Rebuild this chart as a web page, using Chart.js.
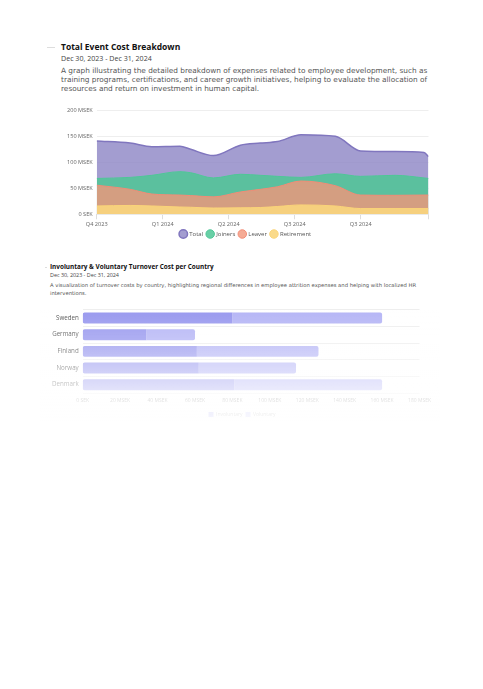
<!DOCTYPE html>
<html>
<head>
<meta charset="utf-8">
<script src="https://cdn.jsdelivr.net/npm/chart.js@4.4.0/dist/chart.umd.min.js"></script>
<style>
  body { margin: 0; background: #fff; font-family: "Open Sans", sans-serif; }
  .page { position: relative; width: 483px; height: 689px; overflow: hidden; }
  .head { position: absolute; }
  .head h2 { margin: 0; font-weight: 700; color: #111; }
  .head .date { color: #444; }
  .head p { margin: 0; color: #555; font-family: "DejaVu Sans", sans-serif; white-space: nowrap; }
  .dash { position: absolute; height: 1px; background: #ddd; }
  .box { position: absolute; }
  .fade { position: absolute; pointer-events: none;
    background: linear-gradient(to bottom, rgba(255,255,255,0) 0%, rgba(255,255,255,0.2) 25%, rgba(255,255,255,0.7) 70%, rgba(255,255,255,0.92) 100%); }
</style>
</head>
<body>
<div class="page">
  <div class="dash" style="left:47px;top:47px;width:8px;"></div>
  <div class="head" style="left:61px;top:42px;width:380px;">
    <h2 style="font-size:8.5px;line-height:10.5px;">Total Event Cost Breakdown</h2>
    <div class="date" style="font-size:7.1px;line-height:10px;">Dec 30, 2023 - Dec 31, 2024</div>
    <p style="font-size:7.35px;line-height:9.4px;margin-top:3px;">A graph illustrating the detailed breakdown of expenses related to employee development, such as<br>training programs, certifications, and career growth initiatives, helping to evaluate the allocation of<br>resources and return on investment in human capital.</p>
  </div>
  <div class="box" style="left:62.5px;top:103px;width:373.5px;height:144px;"><canvas id="costChart"></canvas></div>

  <div class="dash" style="left:45px;top:267px;width:2px;"></div>
  <div class="head" style="left:50px;top:262px;width:390px;">
    <h2 style="font-size:6.4px;line-height:9px;">Involuntary &amp; Voluntary Turnover Cost per Country</h2>
    <div class="date" style="font-size:5.4px;line-height:8px;">Dec 30, 2023 - Dec 31, 2024</div>
    <p style="font-size:5.27px;line-height:8px;margin-top:1.5px;">A visualization of turnover costs by country, highlighting regional differences in employee attrition expenses and helping with localized HR<br>interventions.</p>
  </div>
  <div class="box" style="left:48px;top:302px;width:388px;height:125px;"><canvas id="turnoverChart"></canvas></div>
  <div class="fade" style="left:40px;top:310px;width:400px;height:112px;"></div>
</div>
<script>
// days since Dec 30, 2023
const days = [0, 37, 61, 92, 104, 129, 159, 181, 200, 226, 264, 292, 330, 362, 367];
const total = [141, 137, 130, 131, 125, 113, 133, 137, 140, 153, 150, 122, 121, 119, 111];
const joiners = [69, 71, 75, 82, 80, 70, 77, 75, 73, 71, 78, 73, 75, 70, 69];
const leaver = [56, 48, 39, 37, 36, 33.5, 43, 48, 53, 64, 55, 37, 36.5, 37, 37];
const retirement = [16, 17, 16, 14, 13.5, 12, 12.5, 13, 15, 18, 16, 11, 11, 11, 11];
const tickDays = [0, 73, 146, 219, 292, 367];
const tickLabels = ['Q4 2023', 'Q1 2024', 'Q2 2024', 'Q3 2024', 'Q3 2024', ''];

const countries = ['Sweden', 'Germany', 'Finland', 'Norway', 'Denmark'];
const involuntary = [80, 34, 61, 62, 81];
const voluntary = [80, 26, 65, 52, 79];

function pts(vals) {
    return vals.map((v, i) => ({x: days[i], y: v}));
}
function area(label, vals, color, fill, order, width) {
    return {
        label: label,
        data: pts(vals),
        backgroundColor: fill,
        borderColor: color,
        borderWidth: width,
        fill: 'origin',
        pointRadius: 0,
        cubicInterpolationMode: 'monotone',
        order: order
    };
}

const tickFont = {family: 'Open Sans', size: 5.6};

new Chart(document.getElementById('costChart'), {
    type: 'line',
    data: {
        datasets: [
            area('Total', total, 'rgb(128,118,190)', 'rgba(140,132,196,0.8)', 4, 1.5),
            area('Joiners', joiners, 'rgb(79,199,151)', 'rgba(79,199,151,0.85)', 3, 1),
            area('Leaver', leaver, 'rgb(242,140,118)', 'rgba(242,150,122,0.8)', 2, 1),
            area('Retirement', retirement, 'rgb(250,212,120)', 'rgba(250,214,125,0.9)', 1, 1)
        ]
    },
    options: {
        responsive: true,
        maintainAspectRatio: false,
        animation: false,
        layout: {padding: {left: 0, right: 8, top: 2, bottom: 0}},
        scales: {
            x: {
                type: 'linear',
                min: 0,
                max: 367,
                afterBuildTicks: (axis) => { axis.ticks = tickDays.map(v => ({value: v})); },
                afterFit: (axis) => { axis.height -= 3; },
                ticks: {
                    font: tickFont, color: '#666', padding: 2, maxRotation: 0,
                    callback: (v, i) => tickLabels[i]
                },
                grid: {drawOnChartArea: false, drawTicks: true, tickLength: 5, color: '#ddd'},
                border: {display: false}
            },
            y: {
                min: 0,
                max: 200,
                ticks: {
                    stepSize: 50, font: tickFont, color: '#666', padding: 4,
                    callback: v => v === 0 ? '0 SEK' : v + ' MSEK'
                },
                grid: {color: '#eee', drawTicks: false},
                border: {display: false}
            }
        },
        plugins: {
            legend: {
                position: 'bottom',
                labels: {
                    usePointStyle: true, pointStyle: 'circle', boxWidth: 6, boxHeight: 6,
                    padding: 4, font: {family: 'Open Sans', size: 6}, color: '#555',
                    sort: (a, b) => a.datasetIndex - b.datasetIndex
                }
            },
            tooltip: {enabled: false}
        }
    }
});

new Chart(document.getElementById('turnoverChart'), {
    type: 'bar',
    data: {
        labels: countries,
        datasets: [
            {label: 'Involuntary', data: involuntary, backgroundColor: 'rgb(154,154,239)',
             borderWidth: 0, borderRadius: 2, borderSkipped: 'middle'},
            {label: 'Voluntary', data: voluntary, backgroundColor: 'rgb(182,182,246)',
             borderWidth: 0, borderRadius: 2, borderSkipped: 'middle'}
        ]
    },
    options: {
        indexAxis: 'y',
        responsive: true,
        maintainAspectRatio: false,
        animation: false,
        categoryPercentage: 0.8,
        barPercentage: 0.82,
        layout: {padding: {left: 0, right: 0, top: 1, bottom: 0}},
        scales: {
            x: {
                stacked: true,
                min: 0,
                max: 180,
                ticks: {
                    stepSize: 20, font: {family: 'Open Sans', size: 5}, color: '#777', padding: 5,
                    callback: v => v === 0 ? '0 SEK' : v + ' MSEK'
                },
                grid: {display: false, drawTicks: false},
                border: {display: false}
            },
            y: {
                stacked: true,
                ticks: {font: {family: 'Open Sans', size: 6.2}, color: '#555', padding: 4},
                grid: {color: '#eee', drawTicks: false, offset: true},
                border: {display: false}
            }
        },
        plugins: {
            legend: {
                position: 'bottom',
                labels: {boxWidth: 5, boxHeight: 5, padding: 3, font: {family: 'Open Sans', size: 5}, color: '#777'}
            },
            tooltip: {enabled: false}
        }
    }
});
</script>
</body>
</html>
